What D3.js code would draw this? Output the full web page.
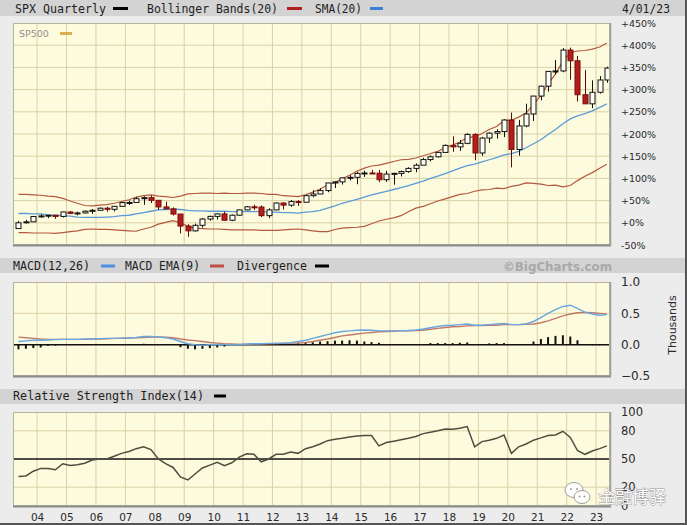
<!DOCTYPE html>
<html><head><meta charset="utf-8"><script src="https://cdn.jsdelivr.net/npm/d3@7"></script>
<style>body{margin:0;background:#ececec;overflow:hidden}svg{display:block}</style></head>
<body><svg id="chart" width="687" height="525"></svg>
<script>
// ---------- data (S&P 500 quarterly, Q2 2003 .. Q2 2023) ----------
const BASE = 974.5; // price that maps to +0%
const openP = [848.2,974.5,996.0,1111.9,1126.2,1140.8,1114.6,1211.9,1180.6,1191.3,1228.8,1248.3,1294.9,1270.2,1335.9,1418.3,1420.9,1503.4,1526.8,1468.4,1322.7,1280.0,1166.4,903.3,797.9,919.3,1057.1,1115.1,1169.4,1030.7,1141.2,1257.6,1325.8,1320.6,1131.4,1257.6,1408.5,1362.2,1440.7,1426.2,1569.2,1606.3,1681.6,1848.4,1872.3,1960.2,1972.3,2058.9,2067.9,2063.1,1920.0,2043.9,2059.7,2098.9,2168.3,2238.8,2362.7,2423.4,2519.4,2673.6,2640.9,2718.4,2914.0,2506.9,2834.4,2941.8,2976.7,3230.8,2584.6,3100.3,3363.0,3756.1,3973.0,4297.5,4307.5,4766.2,4530.4,3785.4,3585.6,3839.5,4109.3];
const highP = [1015.3,1039.6,1112.6,1163.2,1150.6,1140.8,1217.3,1229.1,1219.6,1245.9,1275.8,1310.9,1326.7,1340.3,1431.8,1461.6,1540.6,1555.9,1576.1,1471.8,1440.2,1313.2,1167.0,943.9,956.2,1080.2,1130.4,1180.7,1219.8,1157.2,1262.6,1344.1,1370.6,1356.5,1292.7,1419.2,1422.4,1474.5,1471.0,1570.3,1687.2,1729.9,1849.4,1884.0,1968.2,2019.3,2093.6,2119.6,2134.7,2132.8,2116.5,2072.2,2120.6,2193.8,2277.5,2401.0,2453.8,2519.4,2695.0,2872.9,2791.5,2940.9,2939.9,2860.3,2964.2,3028.0,3247.9,3393.5,3233.1,3588.1,3760.2,3983.9,4302.4,4545.9,4808.9,4818.6,4637.3,4325.3,4100.9,4195.4,4400.0];
const lowP = [847.9,960.8,990.4,1087.2,1076.3,1060.7,1090.2,1163.7,1136.2,1183.6,1168.2,1245.7,1219.3,1224.5,1327.1,1364.0,1416.4,1370.6,1406.1,1257.0,1272.0,1133.5,741.0,666.8,783.3,869.3,1020.0,1044.5,1028.3,1010.9,1131.9,1249.1,1258.1,1101.5,1074.8,1258.9,1266.7,1325.4,1343.4,1426.2,1536.0,1604.6,1646.5,1737.9,1814.4,1904.8,1820.7,1980.9,2048.4,1867.0,1871.9,1810.1,1991.7,2074.0,2084.0,2245.1,2322.3,2407.7,2520.4,2532.7,2553.8,2698.9,2346.6,2444.0,2728.8,2822.1,2855.9,2191.9,2447.5,3073.2,3209.5,3662.7,3853.5,4233.1,4278.9,4114.7,3636.9,3584.1,3491.6,3808.9,4047.9];
const closeP = [974.5,996.0,1111.9,1126.2,1140.8,1114.6,1211.9,1180.6,1191.3,1228.8,1248.3,1294.9,1270.2,1335.9,1418.3,1420.9,1503.4,1526.8,1468.4,1322.7,1280.0,1166.4,903.3,797.9,919.3,1057.1,1115.1,1169.4,1030.7,1141.2,1257.6,1325.8,1320.6,1131.4,1257.6,1408.5,1362.2,1440.7,1426.2,1569.2,1606.3,1681.6,1848.4,1872.3,1960.2,1972.3,2058.9,2067.9,2063.1,1920.0,2043.9,2059.7,2098.9,2168.3,2238.8,2362.7,2423.4,2519.4,2673.6,2640.9,2718.4,2914.0,2506.9,2834.4,2941.8,2976.7,3230.8,2584.6,3100.3,3363.0,3756.1,3973.0,4297.5,4307.5,4766.2,4530.4,3785.4,3585.6,3839.5,4109.3,4370.0];
// Bollinger Bands(20) and SMA(20), in % change
const bbUpper = [64,64,63,62,60,59,55,49,44,39,38,40,41,44,48,52,58,61,63,60,59,57,60,65,66,67,67,66,67,66,66,67,67,66,64,64,61,60,59,63,69,76,85,91,99,107,116,123,128,130,134,138,142,143,146,151,156,161,169,175,182,192,194,201,210,217,230,231,238,247,266,287,313,335,364,383,387,388,391,396,405];
const sma20 = [21,21,20,20,18,17,16,15,13,12,12,12,13,14,16,17,20,23,26,29,30,31,30,28,27,27,26,26,26,25,25,25,25,25,24,24,23,23,22,24,25,28,33,38,44,48,53,58,63,67,71,75,79,84,89,94,100,105,111,117,123,129,132,137,142,147,153,156,161,169,178,187,199,210,223,234,241,246,252,260,268];
const bbLower = [-22,-22,-23,-23,-23,-24,-22,-20,-18,-15,-14,-15,-15,-16,-17,-18,-19,-14,-10,-3,1,5,0,-8,-12,-13,-14,-14,-15,-16,-16,-16,-16,-17,-17,-17,-16,-15,-14,-16,-18,-20,-20,-15,-12,-11,-10,-8,-2,4,8,11,16,25,33,37,43,49,54,59,64,66,71,74,75,78,77,82,85,90,89,87,84,85,81,84,95,105,113,123,132];
// MACD (thousands)
const macd = [0.05,0.06,0.07,0.07,0.075,0.08,0.085,0.085,0.085,0.09,0.09,0.095,0.1,0.1,0.105,0.11,0.115,0.13,0.13,0.125,0.11,0.09,0.05,0.015,0.0,-0.01,0.0,0.005,0.0,0.0,0.005,0.01,0.015,0.015,0.02,0.02,0.025,0.03,0.05,0.07,0.1,0.13,0.16,0.19,0.21,0.22,0.23,0.235,0.23,0.22,0.22,0.22,0.22,0.225,0.235,0.25,0.27,0.29,0.305,0.31,0.32,0.33,0.31,0.31,0.32,0.33,0.34,0.32,0.32,0.33,0.37,0.43,0.5,0.56,0.61,0.63,0.58,0.52,0.49,0.47,0.48];
const macdEma = [0.12,0.11,0.1,0.09,0.085,0.085,0.085,0.085,0.085,0.085,0.09,0.09,0.095,0.1,0.1,0.105,0.11,0.115,0.12,0.125,0.12,0.11,0.09,0.075,0.065,0.05,0.035,0.025,0.015,0.01,0.005,0.005,0.01,0.012,0.015,0.018,0.02,0.025,0.025,0.035,0.05,0.07,0.09,0.115,0.14,0.155,0.17,0.185,0.195,0.205,0.21,0.215,0.22,0.22,0.225,0.23,0.245,0.26,0.275,0.285,0.29,0.3,0.305,0.305,0.31,0.31,0.32,0.32,0.32,0.325,0.33,0.35,0.38,0.42,0.46,0.49,0.51,0.515,0.51,0.5,0.49];
const divergence = [-0.075,-0.065,-0.055,-0.045,-0.02,-0.015,0,0,0,0,0,0,0,0,0,0,0,0.015,0,0,0,0,-0.04,-0.065,-0.075,-0.065,-0.055,-0.045,-0.03,0,0,0,0,0,0,0,0,0,0.03,0.03,0.04,0.05,0.055,0.065,0.065,0.07,0.065,0.05,0.04,0.03,0,0,0,0,0,0,0.025,0.025,0.025,0.025,0.03,0.035,0,0,0.02,0.025,0.025,0,0,0,0.05,0.09,0.12,0.14,0.15,0.13,0.07,0,-0.01,-0.01,0];
// RSI(14)
const rsi = [31.5,32,37,40,40,38.5,45,43,44,45.5,49,50,50,53,56,58,61,63,60,50,45,41,31,27.7,34,40.5,43.5,46.5,43,46,52,55.5,55,47,50,55,55,57.5,56,61,63,66,69.5,71,72,73.5,74.5,75,75,64,67.6,69,70.5,72,74,77,78.5,80,82,81.7,82.7,84.5,63,68.5,70,72,75.5,56,63,66,70,72.5,75,75.5,79.5,73,59,55,58.5,61,64];
// tick labels
const pctTicks = [450,400,350,300,250,200,150,100,50,0,-50];
const macdTicks = [1.0,0.5,0.0,-0.5];
const rsiTicks = [100,80,50,20,0];
const yearLabels = ["04","05","06","07","08","09","10","11","12","13","14","15","16","17","18","19","20","21","22","23"];

// ---------- layout ----------
const svg = d3.select("#chart");
const L = 13, R = 610;
const panels = {
  main: {top: 23, bottom: 245},
  macd: {top: 282, bottom: 376},
  rsi:  {top: 412, bottom: 506}
};
const x = d3.scaleTime().domain([new Date(2003,2,8), new Date(2023,5,23)]).range([L, R]);
const quarters = d3.timeMonth.every(3).range(new Date(2003,3,1), new Date(2023,4,1));
const qMid = quarters.map(d => d3.timeDay.offset(d3.timeMonth.offset(d,1),14));
const yearDates = yearLabels.map(s => new Date(2000 + (+s), 0, 1));

const yPct = d3.scaleLinear().domain([-50,450]).range([panels.main.bottom, panels.main.top]);
const yPrice = d3.scaleLinear().domain([BASE*0.5, BASE*5.5]).range([panels.main.bottom, panels.main.top]);
const yMacd = d3.scaleLinear().domain([-0.5,1.0]).range([panels.macd.bottom, panels.macd.top]);
const yRsi = d3.scaleLinear().domain([0,100]).range([panels.rsi.bottom, panels.rsi.top]);

const MONO = "'DejaVu Sans Mono', monospace";
const SANS = "'DejaVu Sans', Verdana, sans-serif";
const GRID = "#d9d1a6";

svg.append("rect").attr("width",687).attr("height",525).attr("fill","#ececec");

// title bars
function titleBar(y, h){ svg.append("rect").attr("x",0).attr("y",y).attr("width",687).attr("height",h).attr("fill","#d3d3d3"); }
titleBar(0,16); titleBar(258,15); titleBar(389,15);

function txt(t, xx, yy, len, opts={}){
  const e = svg.append("text").attr("x",xx).attr("y",yy).text(t)
    .attr("font-family", opts.family || MONO).attr("font-size", opts.size || 11.5)
    .attr("fill", opts.fill || "#1e1e1e");
  if (len) e.attr("textLength", len).attr("lengthAdjust","spacingAndGlyphs");
  if (opts.weight) e.attr("font-weight", opts.weight);
  return e;
}
function dash(x1, x2, yc, col){ svg.append("rect").attr("x",x1).attr("y",yc-1.5).attr("width",x2-x1).attr("height",3).attr("fill",col); }

txt("SPX Quarterly",15,12.5,91); dash(113,128,8.5,"#000");
txt("Bollinger Bands(20)",147,12.5,131); dash(287,302,8.5,"#b01e1e");
txt("SMA(20)",315,12.5,47); dash(370,383,8.5,"#3b82d6");
txt("4/01/23",622,12.5,48);

txt("MACD(12,26)",13,270,77); dash(101,115,266,"#4a90e0");
txt("MACD EMA(9)",125,270,75); dash(210,224,266,"#c0504a");
txt("Divergence",237,270,70); dash(315,329,266,"#000");
txt("\u00A9BigCharts.com",503,270.5,109,{family:SANS,size:12,fill:"#a9a9a9",weight:"bold"});

txt("Relative Strength Index(14)",13,400,191); dash(214,226,396,"#000");

// plot backgrounds + grids
function plot(p, yScale, hTicks){
  const g = svg.append("g");
  g.append("rect").attr("x",L).attr("y",p.top).attr("width",R-L).attr("height",p.bottom-p.top).attr("fill","#fdfbdd");
  g.selectAll("line.v").data(yearDates).join("line")
    .attr("x1",d=>x(d)).attr("x2",d=>x(d)).attr("y1",p.top).attr("y2",p.bottom)
    .attr("stroke",GRID).attr("stroke-width",1);
  g.selectAll("line.h").data(hTicks).join("line")
    .attr("x1",L).attr("x2",R).attr("y1",d=>yScale(d)).attr("y2",d=>yScale(d))
    .attr("stroke",GRID).attr("stroke-width",1);
  return g;
}
function frame(p){
  svg.append("rect").attr("x",L+0.5).attr("y",p.top+0.5).attr("width",R-L-1).attr("height",p.bottom-p.top-1)
    .attr("fill","none").attr("stroke","#b9b39a").attr("stroke-width",1);
  svg.append("line").attr("x1",L).attr("x2",R+1).attr("y1",p.bottom+0.5).attr("y2",p.bottom+0.5).attr("stroke","#8c8c8c").attr("stroke-width",2);
  svg.append("line").attr("x1",R+0.5).attr("x2",R+0.5).attr("y1",p.top).attr("y2",p.bottom+1).attr("stroke","#a0a0a0").attr("stroke-width",1.5);
}

// ---------- main panel ----------
plot(panels.main, yPct, pctTicks.slice(1,-1));
svg.append("text").attr("x",19).attr("y",37).text("SP500").attr("font-family",SANS).attr("font-size",9.5).attr("fill","#8f8f8f");
dash(60,72,33.5,"#d8b050");

const lineIdx = d3.line().x((d,i)=>x(qMid[i]));
svg.append("path").attr("d", lineIdx.y(d=>yPct(d))(bbUpper)).attr("fill","none").attr("stroke","#b4583f").attr("stroke-width",1.2);
svg.append("path").attr("d", lineIdx.y(d=>yPct(d))(bbLower)).attr("fill","none").attr("stroke","#b4583f").attr("stroke-width",1.2);
svg.append("path").attr("d", lineIdx.y(d=>yPct(d))(sma20)).attr("fill","none").attr("stroke","#5b9ad8").attr("stroke-width",1.3);

const candles = svg.append("g");
const bw = 5;
qMid.forEach((d,i)=>{
  const up = closeP[i] >= openP[i];
  const cx = Math.round(x(d)) + 0.5;
  candles.append("line").attr("x1",cx).attr("x2",cx).attr("y1",yPrice(highP[i])).attr("y2",yPrice(lowP[i]))
    .attr("stroke", up ? "#111" : "#5a0a0a").attr("stroke-width",1);
  const y1 = yPrice(Math.max(openP[i],closeP[i])), y2 = yPrice(Math.min(openP[i],closeP[i]));
  candles.append("rect").attr("x",cx-bw/2).attr("y",y1).attr("width",bw).attr("height",Math.max(1,y2-y1))
    .attr("fill", up ? "#fffef4" : "#b51c1c").attr("stroke", up ? "#111" : "#7a0d0d").attr("stroke-width",1);
});
frame(panels.main);

const axMain = svg.append("g").attr("transform",`translate(621,0)`)
  .call(d3.axisRight(yPct).tickValues(pctTicks).tickSize(0).tickPadding(0)
    .tickFormat(d => (d < 0 ? "-" : "+") + Math.abs(d) + "%"));
axMain.select(".domain").remove();
axMain.selectAll("text").attr("font-family",SANS).attr("font-size",9.5).attr("fill","#2a2a2a").attr("text-anchor","start");

// ---------- MACD panel ----------
plot(panels.macd, yMacd, [0.5]);
const hb = svg.append("g");
qMid.forEach((d,i)=>{
  if (divergence[i] === 0) return;
  const y0 = yMacd(0), y1 = yMacd(divergence[i]);
  hb.append("rect").attr("x",x(d)-1).attr("y",Math.min(y0,y1)).attr("width",2).attr("height",Math.abs(y1-y0)).attr("fill","#111");
});
svg.append("line").attr("x1",L).attr("x2",R).attr("y1",yMacd(0)).attr("y2",yMacd(0)).attr("stroke","#111").attr("stroke-width",1.5);
svg.append("path").attr("d", lineIdx.y(d=>yMacd(d))(macdEma)).attr("fill","none").attr("stroke","#c07a6a").attr("stroke-width",1.4);
svg.append("path").attr("d", lineIdx.y(d=>yMacd(d))(macd)).attr("fill","none").attr("stroke","#6aa6e0").attr("stroke-width",1.4);
frame(panels.macd);
const axMacd = svg.append("g").attr("transform",`translate(621,0)`)
  .call(d3.axisRight(yMacd).tickValues(macdTicks).tickSize(0).tickPadding(0).tickFormat(d3.format(".1f")));
axMacd.select(".domain").remove();
axMacd.selectAll("text").attr("font-family",SANS).attr("font-size",12).attr("fill","#2a2a2a");
svg.append("text").attr("transform","translate(676,325) rotate(-90)").attr("text-anchor","middle")
  .attr("font-family",SANS).attr("font-size",11).attr("fill","#2a2a2a").text("Thousands");

// ---------- RSI panel ----------
plot(panels.rsi, yRsi, [80,20]);
svg.append("line").attr("x1",L).attr("x2",R).attr("y1",yRsi(50)).attr("y2",yRsi(50)).attr("stroke","#111").attr("stroke-width",1.5);
svg.append("path").attr("d", lineIdx.y(d=>yRsi(d))(rsi)).attr("fill","none").attr("stroke","#4d4d40").attr("stroke-width",1.5);
frame(panels.rsi);
const axRsi = svg.append("g").attr("transform",`translate(621,0)`)
  .call(d3.axisRight(yRsi).tickValues(rsiTicks).tickSize(0).tickPadding(0));
axRsi.select(".domain").remove();
axRsi.selectAll("text").attr("font-family",SANS).attr("font-size",11.5).attr("fill","#2a2a2a");

const axX = svg.append("g").attr("transform",`translate(0,${panels.rsi.bottom})`)
  .call(d3.axisBottom(x).tickValues(yearDates).tickSize(0).tickPadding(8).tickFormat((d,i)=>yearLabels[i]));
axX.select(".domain").remove();
axX.selectAll("text").attr("font-family",SANS).attr("font-size",10.5).attr("fill","#2a2a2a");

// outer frame
svg.append("line").attr("x1",686).attr("x2",686).attr("y1",0).attr("y2",525).attr("stroke","#555").attr("stroke-width",2);
svg.append("line").attr("x1",0).attr("x2",687).attr("y1",524).attr("y2",524).attr("stroke","#555").attr("stroke-width",2);

// watermark
const wm = svg.append("g").attr("opacity",0.95);
wm.append("ellipse").attr("cx",574).attr("cy",490).attr("rx",9).attr("ry",7.5).attr("fill","#fff").attr("stroke","#9a9a9a").attr("stroke-width",1);
wm.append("ellipse").attr("cx",582).attr("cy",497).attr("rx",8).attr("ry",6.5).attr("fill","#fff").attr("stroke","#9a9a9a").attr("stroke-width",1);
[[571,489],[577,489],[579.5,496.5],[584.5,496.5]].forEach(p=>wm.append("circle").attr("cx",p[0]).attr("cy",p[1]).attr("r",1).attr("fill","#9a9a9a"));
wm.append("text").attr("x",598).attr("y",503).text("金融博驿")
  .attr("font-family","'Noto Sans CJK SC', sans-serif").attr("font-size",17)
  .attr("fill","#ffffff").attr("stroke","#8e8e8e").attr("stroke-width",0.8).attr("paint-order","stroke");
</script></body></html>
